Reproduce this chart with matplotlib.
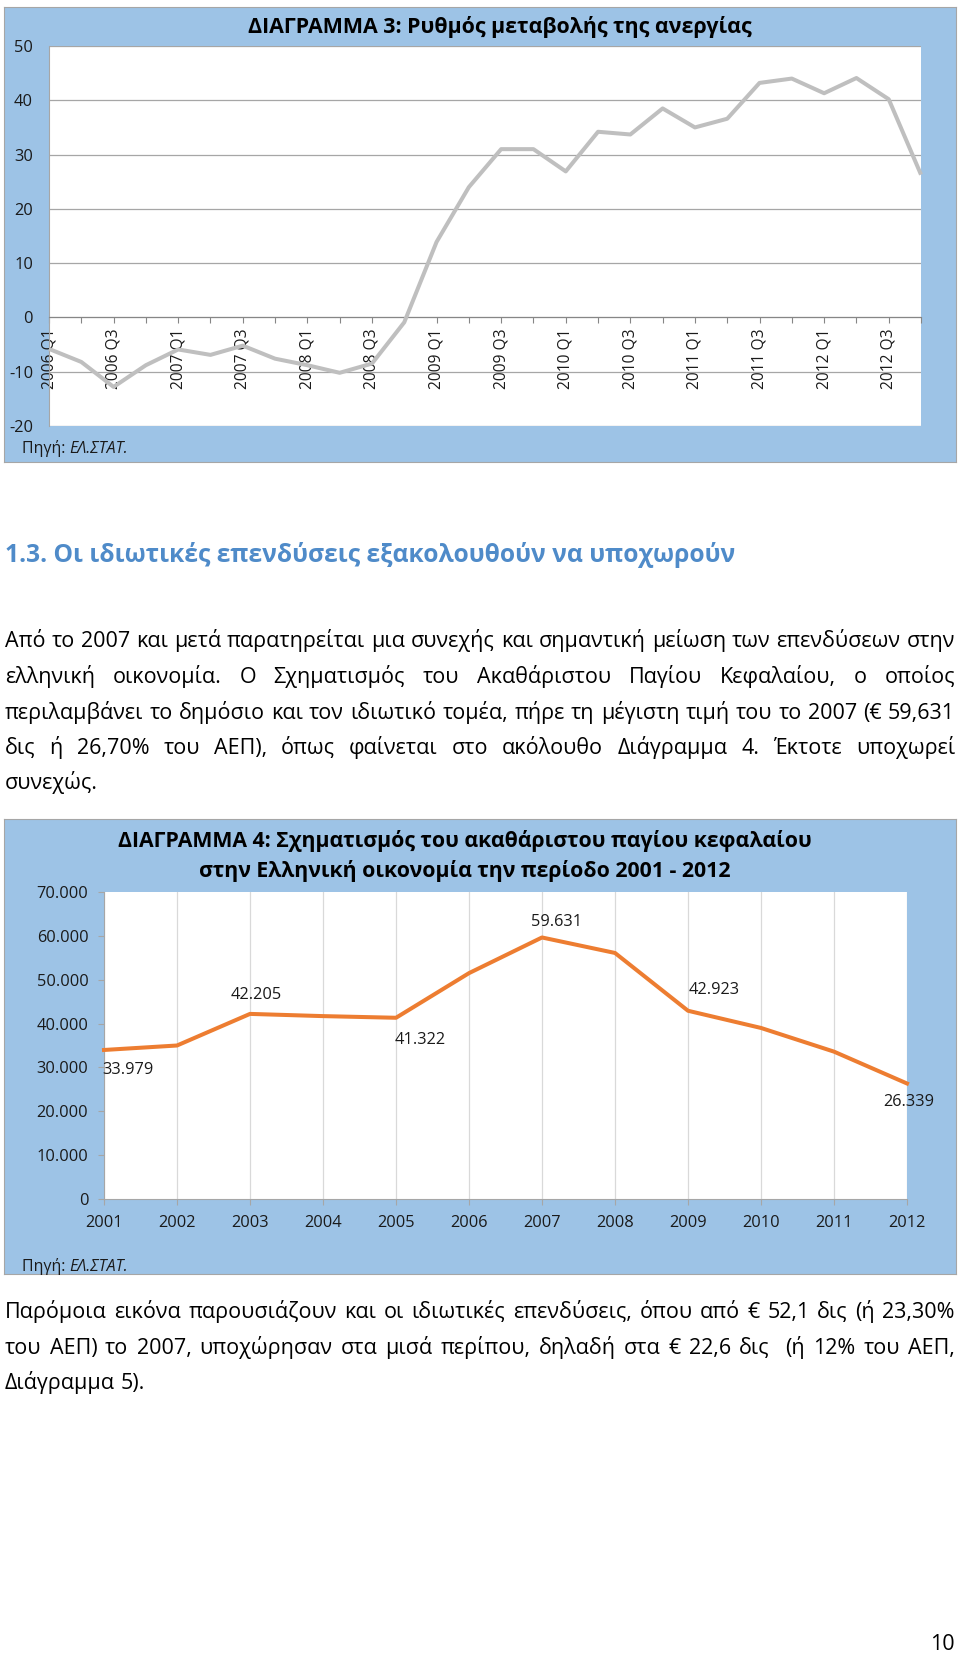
import numpy as np
import matplotlib
matplotlib.use('Agg')
import matplotlib.pyplot as plt
from matplotlib.ticker import FuncFormatter

plt.rcParams['font.family'] = ['Open Sans', 'DejaVu Sans']
plt.rcParams['axes.unicode_minus'] = False

W, H = 960, 1654

# --- Διάγραμμα 3: ρυθμός μεταβολής της ανεργίας (τριμηνιαία) ---
quarters = ['2006 Q1', '2006 Q2', '2006 Q3', '2006 Q4',
            '2007 Q1', '2007 Q2', '2007 Q3', '2007 Q4',
            '2008 Q1', '2008 Q2', '2008 Q3', '2008 Q4',
            '2009 Q1', '2009 Q2', '2009 Q3', '2009 Q4',
            '2010 Q1', '2010 Q2', '2010 Q3', '2010 Q4',
            '2011 Q1', '2011 Q2', '2011 Q3', '2011 Q4',
            '2012 Q1', '2012 Q2', '2012 Q3', '2012 Q4']
unemp_change = [-5.8, -8.2, -12.8, -8.8, -5.9, -6.9, -5.2, -7.6,
                -8.8, -10.2, -8.5, -0.9, 13.9, 24.0, 31.0, 31.0,
                26.9, 34.2, 33.7, 38.5, 35.0, 36.6, 43.2, 44.0,
                41.3, 44.1, 40.2, 26.3]
title3 = 'ΔΙΑΓΡΑΜΜΑ 3: Ρυθμός μεταβολής της ανεργίας'

# --- Διάγραμμα 4: σχηματισμός ακαθάριστου παγίου κεφαλαίου ---
years = ['2001', '2002', '2003', '2004', '2005', '2006',
         '2007', '2008', '2009', '2010', '2011', '2012']
gfcf = [33979, 35000, 42205, 41700, 41322, 51500,
        59631, 56100, 42923, 39000, 33600, 26339]
gfcf_labelled = ['2001', '2003', '2005', '2007', '2009', '2012']
title4 = ['ΔΙΑΓΡΑΜΜΑ 4: Σχηματισμός του ακαθάριστου παγίου κεφαλαίου',
          'στην Ελληνική οικονομία την περίοδο 2001 - 2012']

heading = '1.3. Οι ιδιωτικές επενδύσεις εξακολουθούν να υποχωρούν'
par1 = ['Από το 2007 και μετά παρατηρείται μια συνεχής και σημαντική μείωση των επενδύσεων στην',
        'ελληνική οικονομία. Ο Σχηματισμός του Ακαθάριστου Παγίου Κεφαλαίου, ο οποίος',
        'περιλαμβάνει το δημόσιο και τον ιδιωτικό τομέα, πήρε τη μέγιστη τιμή του το 2007 (€ 59,631',
        'δις ή 26,70% του ΑΕΠ), όπως φαίνεται στο ακόλουθο Διάγραμμα 4. Έκτοτε υποχωρεί',
        'συνεχώς.']
par2 = ['Παρόμοια εικόνα παρουσιάζουν και οι ιδιωτικές επενδύσεις, όπου από € 52,1 δις (ή 23,30%',
        'του ΑΕΠ) το 2007, υποχώρησαν στα μισά περίπου, δηλαδή στα € 22,6 δις  (ή 12% του ΑΕΠ,',
        'Διάγραμμα 5).']

FRAME = '#9DC3E6'
EDGE = '#A6A6A6'
TXT = '#1a1a1a'
TICK_FS = 11.8

fig = plt.figure(figsize=(W / 100, H / 100), dpi=100)
renderer = fig.canvas.get_renderer()


def px_axes(x0, y0, x1, y1, **kw):
    return fig.add_axes([x0 / W, 1 - y1 / H, (x1 - x0) / W, (y1 - y0) / H], **kw)


def ftext(x, y, s, **kw):
    return fig.text(x / W, 1 - y / H, s, **kw)


def width(t):
    return t.get_window_extent(renderer).width


def fit(t, target):
    t.set_fontsize(t.get_fontsize() * target / width(t))
    return t.get_fontsize()


def frame(x0, y0, x1, y1):
    fr = px_axes(x0, y0, x1, y1, zorder=0)
    fr.set_facecolor(FRAME)
    fr.set_xticks([])
    fr.set_yticks([])
    for sp in fr.spines.values():
        sp.set_color(EDGE)
        sp.set_linewidth(0.8)
    return fr


def source(x, y):
    t1 = ftext(x, y, 'Πηγή: ', fontsize=11.5, color=TXT, va='baseline')
    ftext(x + width(t1), y, 'ΕΛ.ΣΤΑΤ.', fontsize=11.5, color=TXT,
          va='baseline', style='italic')


# ================= Chart 3 =================
frame(4, 7, 956, 462)
ax = px_axes(49, 46, 921, 426, zorder=1)
ax.set_facecolor('white')
xq = np.arange(len(quarters))
ax.plot(xq, unemp_change, color='#BFBFBF', lw=2.9, zorder=5, clip_on=False,
        solid_capstyle='butt')
ax.set_xlim(0, len(quarters) - 1)
ax.set_ylim(-20, 50)
ax.set_yticks(np.arange(-20, 51, 10))
ax.yaxis.grid(True, color=EDGE, lw=0.9)
ax.set_axisbelow(True)
ax.set_xticks(xq)
ax.set_xticklabels([q if i % 2 == 0 else '' for i, q in enumerate(quarters)])
ax.tick_params(axis='x', direction='out', length=4.3, width=0.8, color='#868686',
               pad=4, labelrotation=90, labelsize=11.2, labelcolor=TXT)
ax.tick_params(axis='y', length=0, pad=11.5, labelsize=TICK_FS, labelcolor=TXT)
ax.spines['bottom'].set_position(('data', 0))
ax.spines['bottom'].set_color('#868686')
ax.spines['left'].set_color(EDGE)
ax.spines['top'].set_visible(False)
ax.spines['right'].set_visible(False)

t = ftext(500, 33, title3, fontsize=16, fontweight='bold', color='black',
          ha='center', va='baseline')
fit(t, 505)
source(22, 453)

# ================= Chart 4 =================
frame(4, 819, 956, 1274)
ax2 = px_axes(104, 892, 907, 1199, zorder=1)
ax2.set_facecolor('white')
xy = np.arange(len(years))
ax2.plot(xy, gfcf, color='#ED7D31', lw=2.9, zorder=5, clip_on=False)
ax2.set_xlim(0, len(years) - 1)
ax2.set_ylim(0, 70000)
ax2.set_yticks(np.arange(0, 70001, 10000))
ax2.yaxis.set_major_formatter(FuncFormatter(lambda v, p: f'{v:,.0f}'.replace(',', '.')))
ax2.set_xticks(xy)
ax2.set_xticklabels(years)
ax2.xaxis.grid(True, color='#D9D9D9', lw=0.9)
ax2.set_axisbelow(True)
ax2.tick_params(axis='both', direction='out', length=4.3, width=0.8, color=EDGE,
                labelsize=TICK_FS, labelcolor=TXT)
ax2.tick_params(axis='y', pad=7)
ax2.tick_params(axis='x', pad=7)
for side in ('left', 'bottom'):
    ax2.spines[side].set_color(EDGE)
ax2.spines['top'].set_visible(False)
ax2.spines['right'].set_visible(False)

# label offsets (px right, px down) from the point
offsets = {'2001': (24, 20), '2003': (6, -19), '2005': (24, 22),
           '2007': (15, -15), '2009': (26, -21), '2012': (2, 19)}
for yr in gfcf_labelled:
    i = years.index(yr)
    dx, dy = offsets[yr]
    ax2.annotate(f'{gfcf[i]:,}'.replace(',', '.'), (i, gfcf[i]),
                 xytext=(dx * 0.72, -dy * 0.72), textcoords='offset points',
                 ha='center', va='center', fontsize=TICK_FS, color=TXT,
                 zorder=6, annotation_clip=False)

t1 = ftext(465, 847, title4[0], fontsize=16, fontweight='bold', color='black',
           ha='center', va='baseline')
fs = fit(t1, 695)
ftext(465, 877, title4[1], fontsize=fs, fontweight='bold', color='black',
      ha='center', va='baseline')
source(22, 1271)

# ================= Text =================
t = ftext(5, 562, heading, fontsize=18, fontweight='bold', color='#4F8BC9',
          va='baseline')
fit(t, 730)

LEFT, RIGHT = 5, 955


def natural(line, fs):
    tt = ftext(0, 0, line, fontsize=fs)
    w = width(tt)
    tt.remove()
    return w


# lines that sit at (almost) normal spacing in the page decide the body size
BODY_FS = min(14.0 * (RIGHT - LEFT) / natural(l, 14.0)
              for l in (par1[0], par1[2], par2[0], par2[1]))


def body_line(line, y, justify, fs):
    words = line.split(' ')
    texts = [ftext(0, y, w, fontsize=fs, color='black', va='baseline') for w in words]
    ws = [width(tt) if w else 0.0 for tt, w in zip(texts, words)]
    a = ftext(0, 0, 'x x', fontsize=fs)
    b = ftext(0, 0, 'xx', fontsize=fs)
    space = width(a) - width(b)
    a.remove()
    b.remove()
    if justify and len(words) > 1:
        gap = max((RIGHT - LEFT - sum(ws)) / (len(words) - 1), space * 0.6)
    else:
        gap = space
    x = LEFT
    for tt, w in zip(texts, ws):
        tt.set_position((x / W, 1 - y / H))
        x += w + gap


for k, (line, y) in enumerate(zip(par1, [647, 683, 719, 754, 789])):
    body_line(line, y, k < len(par1) - 1, BODY_FS)
for k, (line, y) in enumerate(zip(par2, [1318, 1354, 1389])):
    body_line(line, y, k < len(par2) - 1, BODY_FS)

ftext(955, 1650, '10', fontsize=BODY_FS, color='black', ha='right', va='baseline')

fig.savefig('out.png', dpi=100, facecolor='white')
